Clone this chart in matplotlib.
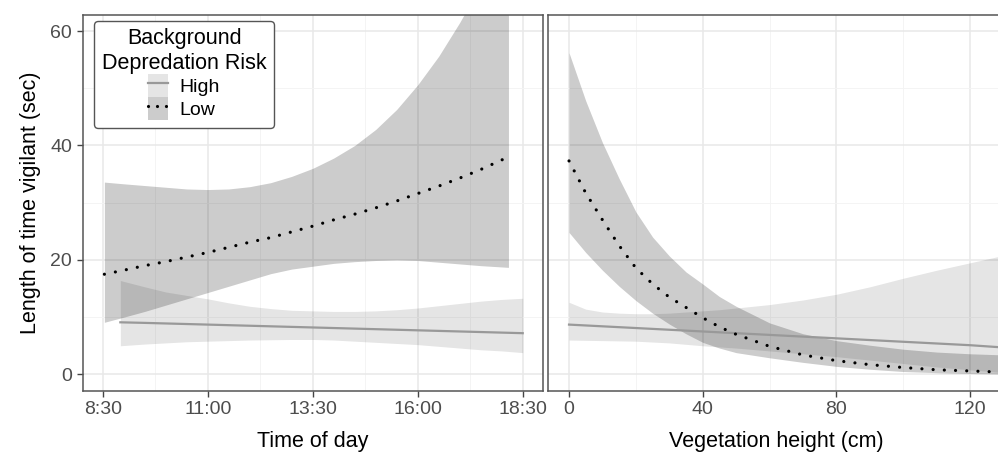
import matplotlib.pyplot as plt
from matplotlib.patches import Patch
from matplotlib.lines import Line2D

plt.rcParams['font.family'] = ['Liberation Sans', 'DejaVu Sans']

# --- time of day panel (hours as decimals) ---
time_low_line = [8.54, 9.0, 9.5, 10.0, 10.5, 11.0, 11.5, 12.0, 12.5, 13.0,
                 13.5, 14.0, 14.5, 15.0, 15.5, 16.0, 16.5, 17.0, 17.5, 18.04]
vig_low = [17.5, 18.2, 19.0, 19.7, 20.5, 21.3, 22.2, 23.1, 23.9, 24.9,
           25.9, 27.0, 28.0, 29.1, 30.3, 31.6, 32.9, 34.3, 35.8, 37.6]

time_low_band = [8.54, 9.0, 9.5, 10.0, 10.5, 11.0, 11.5, 12.0, 12.5, 13.0,
                 13.5, 14.0, 14.5, 15.0, 15.5, 16.0, 16.5, 17.0, 17.5, 18.16]
low_upper = [33.6, 33.3, 33.0, 32.7, 32.4, 32.3, 32.4, 32.8, 33.5, 34.6,
             36.0, 37.8, 40.0, 42.8, 46.3, 50.6, 55.6, 61.5, 68.0, 78.0]
low_lower = [9.1, 10.0, 11.0, 12.1, 13.2, 14.3, 15.4, 16.5, 17.6, 18.4,
             18.9, 19.4, 19.7, 19.9, 20.0, 19.9, 19.6, 19.3, 19.0, 18.7]

time_high = [8.92, 9.5, 10.0, 10.5, 11.0, 11.5, 12.0, 12.5, 13.0, 13.5,
             14.0, 14.5, 15.0, 15.5, 16.0, 16.5, 17.0, 17.5, 18.0, 18.5]
vig_high = [9.1, 9.0, 8.9, 8.8, 8.7, 8.6, 8.5, 8.4, 8.3, 8.2,
            8.1, 8.0, 7.9, 7.8, 7.7, 7.6, 7.5, 7.4, 7.3, 7.2]
high_upper = [16.4, 15.3, 14.4, 13.8, 13.2, 12.5, 11.9, 11.5, 11.2, 11.1,
              11.0, 11.0, 11.1, 11.3, 11.6, 12.0, 12.4, 12.8, 13.1, 13.3]
high_lower = [5.0, 5.3, 5.5, 5.7, 5.8, 5.9, 6.0, 6.05, 6.1, 6.1,
              6.0, 5.8, 5.6, 5.4, 5.2, 4.9, 4.6, 4.3, 4.1, 3.8]

time_ticks = [8.5, 11, 13.5, 16, 18.5]
time_labels = ['8:30', '11:00', '13:30', '16:00', '18:30']

# --- vegetation height panel (cm) ---
veg = [0, 5, 10, 15, 20, 25, 30, 35, 40, 45, 50, 60, 70, 80, 90, 100, 110, 120, 130]
veg_vig_low = [37.3, 31.7, 27.0, 22.5, 18.6, 15.8, 13.5, 11.7, 9.9, 8.3,
               7.0, 4.9, 3.4, 2.4, 1.7, 1.2, 0.8, 0.6, 0.4]
veg_low_upper = [56.2, 47.8, 40.5, 34.2, 28.4, 24.0, 20.7, 17.9, 15.8, 13.6,
                 11.9, 9.0, 7.1, 5.9, 5.1, 4.4, 3.9, 3.6, 3.4]
veg_low_lower = [24.8, 21.3, 18.2, 15.4, 12.9, 10.7, 8.8, 7.1, 5.6, 4.6,
                 3.8, 2.9, 2.1, 1.4, 0.9, 0.5, 0.3, 0.15, 0.05]

veg_vig_high = [8.7, 8.55, 8.4, 8.25, 8.1, 7.95, 7.8, 7.65, 7.5, 7.35,
                7.2, 6.9, 6.6, 6.3, 6.0, 5.7, 5.4, 5.1, 4.7]
veg_high_upper = [12.6, 11.4, 10.9, 10.7, 10.6, 10.6, 10.7, 10.9, 11.1, 11.3,
                  11.6, 12.2, 13.0, 14.0, 15.3, 16.8, 18.2, 19.5, 20.8]
veg_high_lower = [6.0, 5.95, 5.9, 5.85, 5.8, 5.65, 5.5, 5.25, 5.0, 4.8,
                  4.6, 4.1, 3.6, 3.1, 2.5, 1.9, 1.3, 0.8, 0.3]

veg_ticks = [0, 40, 80, 120]

fig = plt.figure(figsize=(9.98, 4.53), dpi=100)
ax1 = fig.add_axes([0.0827, 0.1369, 0.4617, 0.830])
ax2 = fig.add_axes([0.5494, 0.1369, 0.4561, 0.830])

high_col = '#999999'
dots = (0, (0.01, 3.5))


def style(ax):
    ax.set_ylim(-2.9, 62.8)
    ax.set_yticks([0, 20, 40, 60])
    ax.set_yticks([10, 30, 50], minor=True)
    ax.grid(True, which='major', color='#e8e8e8', lw=1.1, zorder=0)
    ax.grid(True, which='minor', color='#f3f3f3', lw=0.6, zorder=0)
    ax.set_axisbelow(True)
    for s in ax.spines.values():
        s.set_color('#555555')
        s.set_linewidth(1.1)
    ax.tick_params(which='major', direction='out', length=4, color='#444444',
                   labelsize=14, labelcolor='#4d4d4d', width=1)
    ax.tick_params(which='minor', length=0)


# left panel
ax1.fill_between(time_low_band, low_lower, low_upper, color='black', alpha=0.2, lw=0, zorder=2)
ax1.fill_between(time_high, high_lower, high_upper, color='black', alpha=0.1, lw=0, zorder=2)
ax1.plot(time_high, vig_high, color=high_col, lw=1.6, zorder=3)
ax1.plot(time_low_line, vig_low, color='black', lw=2.3, ls=dots,
         dash_capstyle='round', zorder=3)
ax1.set_xlim(8.02, 18.99)
ax1.set_xticks(time_ticks)
ax1.set_xticklabels(time_labels)
ax1.set_xticks([9.75, 12.25, 14.75, 17.25], minor=True)
style(ax1)
ax1.set_xlabel('Time of day', fontsize=15.5, labelpad=9)
ax1.set_ylabel('Length of time vigilant (sec)', fontsize=15.5, labelpad=7)

# right panel
ax2.fill_between(veg, veg_low_lower, veg_low_upper, color='black', alpha=0.2, lw=0, zorder=2)
ax2.fill_between(veg, veg_high_lower, veg_high_upper, color='black', alpha=0.1, lw=0, zorder=2)
ax2.plot(veg, veg_vig_high, color=high_col, lw=1.6, zorder=3)
ax2.plot(veg[:-1] + [127], veg_vig_low[:-1] + [0.45], color='black', lw=2.3, ls=dots,
         dash_capstyle='round', zorder=3)
ax2.set_xlim(-6.2, 130)
ax2.set_xticks(veg_ticks)
ax2.set_xticks([20, 60, 100], minor=True)
style(ax2)
ax2.set_yticklabels([])
ax2.tick_params(axis='y', which='major', length=0)
ax2.set_xlabel('Vegetation height (cm)', fontsize=15.5, labelpad=9)

# legend
h_high = (Patch(facecolor='black', alpha=0.1, lw=0), Line2D([], [], color=high_col, lw=1.6))
h_low = (Patch(facecolor='black', alpha=0.2, lw=0),
         Line2D([], [], color='black', lw=2.3, ls=(0, (0.01, 2.8)), dash_capstyle='round'))
leg = ax1.legend([h_high, h_low], ['High', 'Low'], title='Background\nDepredation Risk',
                 loc='upper left', bbox_to_anchor=(0.025, 0.985), borderaxespad=0,
                 fontsize=14, title_fontsize=15.5, handlelength=1.0, handleheight=1.45,
                 labelspacing=0.0, handletextpad=0.6, borderpad=0.4,
                 fancybox=True, framealpha=1, edgecolor='#555555')
leg.get_title().set_multialignment('center')
leg.get_frame().set_linewidth(1.0)
leg.set_zorder(5)

fig.savefig('out.png', dpi=100)
